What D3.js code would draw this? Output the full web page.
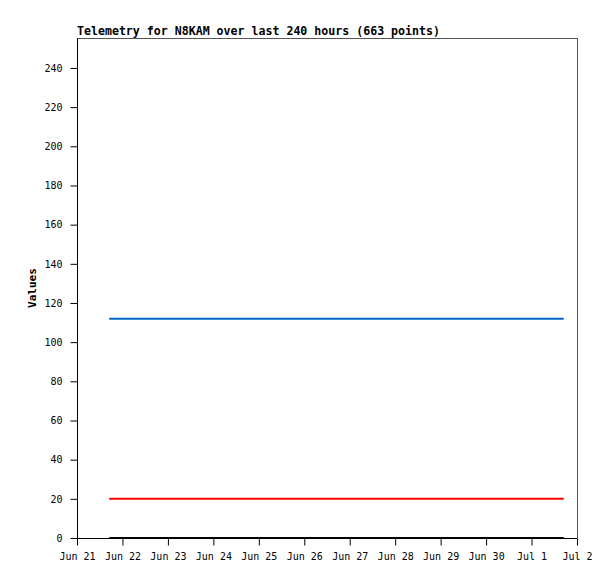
<!DOCTYPE html>
<html><head><meta charset="utf-8">
<script src="https://cdn.jsdelivr.net/npm/d3@7"></script>
<style>body{margin:0;background:#fff}svg{display:block}</style>
</head><body><svg id="c" width="615" height="579"></svg>
<script>
const title = "Telemetry for N8KAM over last 240 hours (663 points)";
const yLabel = "Values";
const yTicks = [0,20,40,60,80,100,120,140,160,180,200,220,240];
const xTickLabels = ["Jun 21","Jun 22","Jun 23","Jun 24","Jun 25","Jun 26","Jun 27","Jun 28","Jun 29","Jun 30","Jul 1","Jul 2"];
const xTickDates = ["2024-06-21","2024-06-22","2024-06-23","2024-06-24","2024-06-25","2024-06-26","2024-06-27","2024-06-28","2024-06-29","2024-06-30","2024-07-01","2024-07-02"];
const times = ["2024-06-21T17:00","2024-07-01T17:00"];
const seriesBlue = [112,112];
const seriesRed = [20,20];
const seriesBlack = [0,0];

const svg = d3.select("#c");
const L=77,R=577,T=38,B=538;
const parse = s => new Date(s);
const x = d3.scaleTime().domain([parse(xTickDates[0]), parse(xTickDates[xTickDates.length-1])]).range([L,R]);
const y = d3.scaleLinear().domain([0,255.3]).range([B,T]);
const font = "'DejaVu Sans Mono', monospace";

// frame
svg.append("line").attr("x1",L).attr("x2",R).attr("y1",T+0.5).attr("y2",T+0.5).attr("stroke","#555");
svg.append("line").attr("x1",R+0.5).attr("x2",R+0.5).attr("y1",T).attr("y2",B).attr("stroke","#555");

const yAx = svg.append("g").attr("transform",`translate(${L+0.5},0)`)
  .call(d3.axisLeft(y).tickValues(yTicks).tickSize(7).tickPadding(8).tickSizeOuter(0));
yAx.select(".domain").attr("d",`M0,${T}V${B}`).attr("stroke","#000");
yAx.selectAll("text").attr("font-family",font).attr("font-size",10).attr("fill","#000");

const xAx = svg.append("g").attr("transform",`translate(0,${B+0.5})`)
  .call(d3.axisBottom(x).tickValues(xTickDates.map(parse)).tickFormat((d,i)=>xTickLabels[i]).tickSize(7).tickPadding(7).tickSizeOuter(0));
xAx.select(".domain").attr("d",`M${L},0H${R}`).attr("stroke","#000");
xAx.selectAll("text").attr("font-family",font).attr("font-size",10).attr("fill","#000");

const line = d3.line().x((d,i)=>x(parse(times[i]))).y(d=>y(d));
[[seriesBlack,"#000"],[seriesRed,"#ff0000"],[seriesBlue,"#0066cc"]].forEach(([s,c])=>{
  svg.append("path").datum(s).attr("d",line).attr("fill","none").attr("stroke",c).attr("stroke-width",2);
});

svg.append("text").attr("x",L).attr("y",35).attr("font-family",font).attr("font-weight","bold").attr("font-size",11.6).text(title);
svg.append("text").attr("transform",`translate(36,${(T+B)/2}) rotate(-90)`).attr("text-anchor","middle")
  .attr("font-family",font).attr("font-weight","bold").attr("font-size",11).text(yLabel);
</script></body></html>
